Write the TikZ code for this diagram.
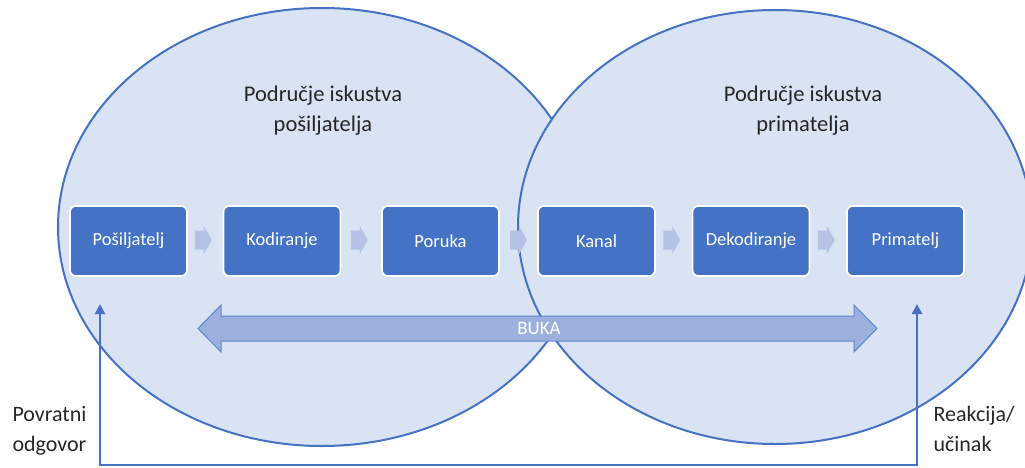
\documentclass[tikz,border=0pt]{standalone}
\usepackage{fontspec}
\setmainfont{Carlito}
\usetikzlibrary{arrows.meta,calc}
\definecolor{acc}{HTML}{4472C4}
\definecolor{lite}{HTML}{DAE3F3}
\definecolor{chevc}{HTML}{B4C3E3}
\definecolor{bukac}{HTML}{9DB0DD}
\definecolor{txt}{HTML}{262626}
\tikzset{
 zone/.style={draw=acc, line width=2pt, fill=lite},
 stepbox/.style={draw=white, line width=1.6pt, fill=acc, rounded corners=6pt, minimum width=117pt, minimum height=70pt, inner sep=0pt, text=white, font=\fontsize{18.5}{22}\selectfont},
 title/.style={align=center, text=txt, font=\fontsize{22.5}{30}\selectfont},
 side/.style={align=left, text=txt, font=\fontsize{22}{30}\selectfont, anchor=west},
 chev/.style={fill=chevc},
 noise/.style={fill=bukac, draw=acc!85, line width=1pt},
 fb/.style={draw=acc, line width=2.6pt, {Triangle[length=10pt,width=10pt]}-{Triangle[length=10pt,width=10pt]}},
}
\newcommand\chevat[1]{\fill[chev] ($(#1)+(-8.5,-9.5)$) -- ++(9,0) -- ++(0,-4.5) -- ++(8,14) -- ++(-8,14) -- ++(0,-4.5) -- ++(-9,0) -- cycle;}
\begin{document}
\begin{tikzpicture}[x=1pt,y=-1pt]
\clip (0,0) rectangle (1025,468);
\draw[zone] (322,227) ellipse [x radius=264pt, y radius=219pt];
\draw[zone] (775,227) ellipse [x radius=257pt, y radius=217pt];
% noise arrow
\draw[noise] (198,328.5) -- (221,305) -- (221,316) -- (854,316) -- (854,305) -- (877,328.5) -- (854,352) -- (854,341) -- (221,341) -- (221,352) -- cycle;
\node[text=white, font=\fontsize{19}{22}\selectfont] (buka) at (539,328.5) {BUKA};
% steps
\node[stepbox] (s1) at (128.5,241) {Pošiljatelj};
\node[stepbox] (s2) at (282,241) {Kodiranje};
\node[stepbox] (s3) at (440.5,241) {Poruka};
\node[stepbox] (s4) at (596.5,241) {Kanal};
\node[stepbox] (s5) at (751,241) {Dekodiranje};
\node[stepbox] (s6) at (905.5,241) {Primatelj};
\coordinate (c12) at ($(s1.east)!0.5!(s2.west)+(-2,-1)$);
\coordinate (c23) at ($(s2.east)!0.5!(s3.west)+(-2,-1)$);
\coordinate (c34) at ($(s3.east)!0.5!(s4.west)+(0,-1)$);
\coordinate (c45) at ($(s4.east)!0.5!(s5.west)+(-2,-1)$);
\coordinate (c56) at ($(s5.east)!0.5!(s6.west)+(-2,-1)$);
\chevat{c12}\chevat{c23}\chevat{c34}\chevat{c45}\chevat{c56}
% titles
\node[title] (t1) at (323,111) {Područje iskustva\\pošiljatelja};
\node[title] (t2) at (803,111) {Područje iskustva\\primatelja};
\node[side] (l1) at (9,431) {Povratni\\odgovor};
\node[side] (l2) at (930,429) {Reakcija/\\učinak};
% feedback
\coordinate (fbL) at (100,304);
\coordinate (fbR) at (917,304);
\coordinate (fbB) at (0,465);
\draw[fb] (fbL) -- (fbL |- fbB) -- (fbR |- fbB) -- (fbR);
\end{tikzpicture}
\end{document}
